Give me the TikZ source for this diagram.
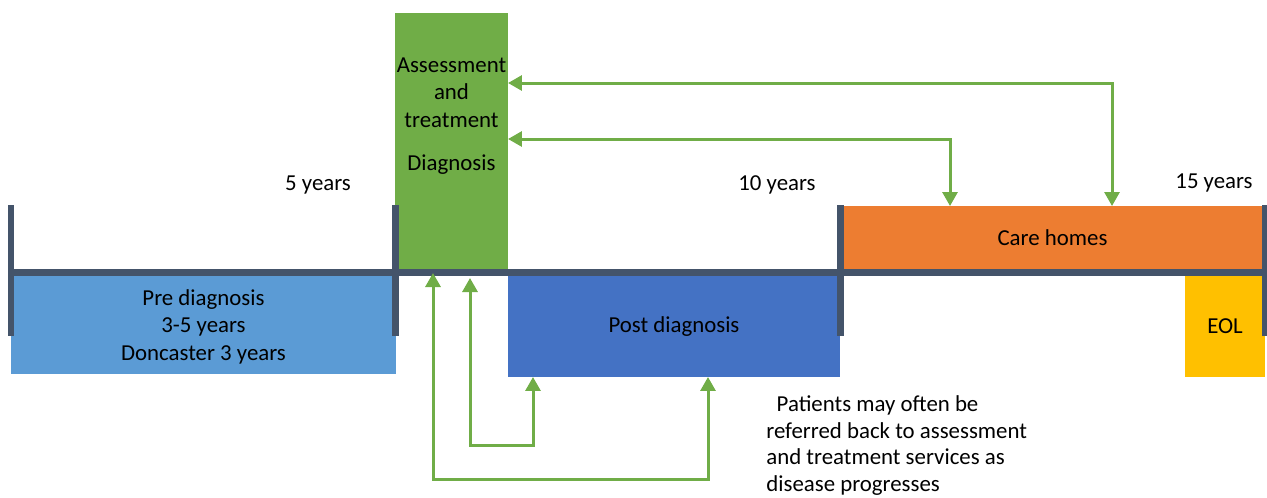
\documentclass[tikz,border=0pt]{standalone}
\usepackage{fontspec}
\setmainfont{Carlito}
\usetikzlibrary{arrows.meta}
\definecolor{barc}{HTML}{44546A}
\definecolor{greenc}{HTML}{70AD47}
\definecolor{lbluec}{HTML}{5B9BD5}
\definecolor{bluec}{HTML}{4472C4}
\definecolor{orangec}{HTML}{ED7D31}
\definecolor{goldc}{HTML}{FFC000}
\tikzset{
  box/.style={inner sep=0pt, outer sep=0pt, align=center, font=\fontsize{13}{15.6}\selectfont},
  lbl/.style={inner sep=0pt, align=center, font=\fontsize{13}{15.6}\selectfont},
  barline/.style={draw=barc, line width=0.14cm},
  conn/.style={draw=greenc, line width=0.06cm,
    {Triangle[width=0.3cm,length=0.28cm]}-{Triangle[width=0.3cm,length=0.28cm]}},
}
\begin{document}
\begin{tikzpicture}[x=0.02cm,y=-0.02cm]
\useasboundingbox (0,0) rectangle (1267,497);
% boxes
\node[box, fill=lbluec, minimum width=7.7cm, minimum height=1.96cm] (pre) at (203.5,325) {};
\node[lbl] (pretext) at (203.5,326.5) {Pre diagnosis\\3-5 years\\Doncaster 3 years};
\node[box, fill=greenc, minimum width=2.26cm, minimum height=5.14cm] (diag) at (451.5,141.5) {};
\node[lbl] (diagtext) at (451.5,116) {Assessment\\and\\treatment\\[8.8pt]Diagnosis};
\node[box, fill=bluec, minimum width=6.64cm, minimum height=2.02cm] (post) at (674,326.5) {Post diagnosis};
\node[box, fill=orangec, minimum width=8.5cm, minimum height=1.28cm] (care) at (1052.5,238) {Care homes};
\node[box, fill=goldc, minimum width=1.6cm, minimum height=2.02cm] (eol) at (1225,326.5) {EOL};
% timeline
\coordinate (tl0) at (8,272.5);
\coordinate (tl1) at (1267,272.5);
\draw[barline] (tl0) -- (tl1);
\foreach \x/\n in {11/ta,395/tb,840/tc,1265/td}{
  \coordinate (\n top) at (\x,205);
  \coordinate (\n bot) at (\x,336);
  \draw[barline] (\n top) -- (\n bot);
}
% year labels
\node[lbl] (y5) at (318,185) {5 years};
\node[lbl] (y10) at (777,185) {10 years};
\node[lbl] (y15) at (1214,183) {15 years};
% connectors to care homes
\coordinate (c1) at (1112,83);
\coordinate (c2) at (950,139);
\draw[conn] (c1 -| diag.east) -| (c1 |- care.north);
\draw[conn] (c2 -| diag.east) -| (c2 |- care.north);
% connectors to post diagnosis
\coordinate (u1) at (433,273);
\coordinate (b1) at (433,479);
\coordinate (e1) at (708,479);
\coordinate (u2) at (470,278);
\coordinate (b2) at (470,445);
\coordinate (e2) at (533,445);
\draw[conn] (u1) -- (b1) -- (e1) -- (e1 |- post.south);
\draw[conn] (u2) -- (b2) -- (e2) -- (e2 |- post.south);
% annotation
\node[anchor=north west, inner sep=0pt, align=left, font=\fontsize{13}{15.3}\selectfont] (note) at (766,395)
  {\ \ Patients may often be\\referred back to assessment\\and treatment services as\\disease progresses};
\end{tikzpicture}
\end{document}
